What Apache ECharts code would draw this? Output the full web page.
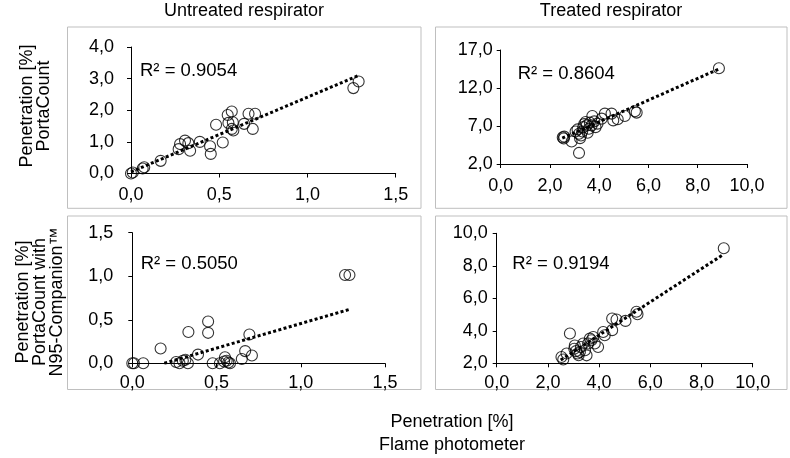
<!DOCTYPE html>
<html><head><meta charset="utf-8">
<script src="https://cdn.jsdelivr.net/npm/echarts@6/dist/echarts.min.js"></script>
<style>html,body{margin:0;padding:0;background:#fff}#c{width:790px;height:458px}</style>
</head><body><div id="c"></div>
<script>
// ---- data ----
const columnTitles = ['Untreated respirator', 'Treated respirator'];
const rowTitles = ['Penetration [%]\nPortaCount', 'Penetration [%]\nPortaCount with\nN95-Companion\u2122'];
const xTitle = 'Penetration [%]\nFlame photometer';
const r2Labels = ['R\u00b2 = 0.9054', 'R\u00b2 = 0.8604', 'R\u00b2 = 0.5050', 'R\u00b2 = 0.9194'];

const untreatedXTicks = [0, 0.5, 1.0, 1.5];
const treatedXTicks = [0, 2, 4, 6, 8, 10];
const p1YTicks = [0, 1, 2, 3, 4];
const p2YTicks = [2, 7, 12, 17];
const p3YTicks = [0, 0.5, 1.0, 1.5];
const p4YTicks = [2, 4, 6, 8, 10];

const untreatedPortaCount = [[0,0],[0.01,0.03],[0.066,0.16],[0.075,0.2],[0.168,0.40],[0.27,0.77],[0.278,0.93],[0.306,1.04],[0.325,0.96],[0.335,0.72],[0.39,1.0],[0.448,0.86],[0.452,0.62],[0.482,1.54],[0.52,0.98],[0.548,1.85],[0.552,1.6],[0.571,1.96],[0.577,1.62],[0.571,1.41],[0.58,1.36],[0.641,1.57],[0.666,1.89],[0.69,1.41],[0.703,1.89],[1.26,2.70],[1.29,2.91]];
const treatedPortaCount = [[2.52,5.5],[2.56,5.35],[2.58,5.6],[2.88,4.96],[3.18,3.46],[3.04,6.28],[3.12,6.55],[3.18,5.98],[3.22,5.40],[3.26,5.75],[3.31,6.28],[3.35,6.85],[3.39,7.25],[3.45,7.52],[3.49,7.08],[3.53,6.11],[3.58,6.64],[3.62,7.44],[3.69,7.08],[3.72,8.31],[3.80,7.61],[3.85,6.85],[3.93,7.31],[4.1,7.97],[4.23,8.63],[4.5,8.63],[4.57,7.74],[4.75,7.88],[5.04,8.31],[5.45,8.94],[5.52,8.76],[8.86,14.6]];
const untreatedCompanion = [[0,0],[0.01,0],[0.065,0],[0.168,0.17],[0.26,0.015],[0.28,0.0],[0.30,0.03],[0.315,0.04],[0.33,0.0],[0.333,0.36],[0.39,0.10],[0.45,0.48],[0.45,0.35],[0.477,0],[0.52,0],[0.545,0.02],[0.55,0.07],[0.56,0.03],[0.57,0.01],[0.58,0.0],[0.65,0.05],[0.67,0.14],[0.695,0.33],[0.71,0.09],[1.263,1.015],[1.289,1.015]];
const treatedCompanion = [[2.53,2.39],[2.6,2.23],[2.73,2.6],[2.86,3.83],[3.03,2.9],[3.05,3.1],[3.1,2.75],[3.16,2.6],[3.2,2.5],[3.25,2.7],[3.29,3.0],[3.38,3.22],[3.45,2.8],[3.51,2.49],[3.57,3.22],[3.64,3.52],[3.7,3.42],[3.77,3.62],[3.83,3.22],[3.96,3.0],[4.16,3.93],[4.22,3.73],[4.51,4.04],[4.51,4.76],[4.68,4.7],[5.03,4.61],[5.46,5.17],[5.5,5.02],[8.87,9.08]];

const trend1 = [[0,0.05],[1.29,3.1]];
const trend2 = [[2.5,5.4],[8.86,14.5]];
const trend3 = [[0.19,0],[1.29,0.62]];
const trend4 = [[2.5,2.2],[8.86,8.7]];

// ---- chart ----
const FONT = 'Liberation Sans';
const fmt = v => v.toFixed(1).replace('.', ',');
const grids = [
  {left:131, top:47, width:264.7, height:126.5},
  {left:500.7, top:50, width:246.3, height:114},
  {left:132.3, top:232.7, width:252.7, height:130.6},
  {left:496.7, top:233.3, width:256, height:130}
];
const xTicksFor = [untreatedXTicks, treatedXTicks, untreatedXTicks, treatedXTicks];
const yTicksFor = [p1YTicks, p2YTicks, p3YTicks, p4YTicks];
const yMargins = [17, 8, 19, 9];
const xMargins = [13, 13, 11, 11];
const scatterData = [untreatedPortaCount, treatedPortaCount, untreatedCompanion, treatedCompanion];
const trendData = [trend1, trend2, trend3, trend4];

function axis(ticks, idx, margin) {
  return {
    type:'value', gridIndex:idx,
    min:ticks[0], max:ticks[ticks.length-1], interval:ticks[1]-ticks[0],
    axisLine:{show:true, onZero:false, lineStyle:{color:'#000', width:1}},
    axisTick:{show:true, length:4, lineStyle:{color:'#000', width:1}},
    splitLine:{show:false},
    axisLabel:{color:'#000', fontSize:18, fontFamily:FONT, margin:margin, formatter:fmt}
  };
}

const series = [];
for (let i = 0; i < 4; i++) {
  series.push({
    type:'scatter', xAxisIndex:i, yAxisIndex:i, data:scatterData[i],
    symbol:'circle', symbolSize:11,
    itemStyle:{color:'rgba(255,255,255,0)', borderColor:'#000', borderWidth:1.1},
    silent:true, z:2
  });
  series.push({
    type:'line', xAxisIndex:i, yAxisIndex:i, data:trendData[i],
    showSymbol:false, symbol:'none',
    lineStyle:{color:'#000', width:3, type:[3,2.4], cap:'butt'},
    silent:true, z:3
  });
}

const boxes = [
  [67.5, 27, 353.5, 181.3],
  [435.5, 27, 351.5, 181.3],
  [67.5, 216, 353.5, 173.5],
  [435.5, 216, 351.5, 173.5]
];
const graphic = boxes.map(b => ({
  type:'rect', shape:{x:b[0], y:b[1], width:b[2], height:b[3]},
  style:{fill:'none', stroke:'#bfbfbf', lineWidth:1}, silent:true, z:-1
}));
const r2Pos = [[140,71],[517.7,73.5],[140.7,264],[512.3,263.5]];
r2Labels.forEach((t, i) => graphic.push({
  type:'text', x:r2Pos[i][0], y:r2Pos[i][1],
  style:{text:t, fontSize:18.5, fontFamily:FONT, fill:'#000', align:'left', verticalAlign:'middle'}
}));
graphic.push({type:'text', x:244, y:11, style:{text:columnTitles[0], fontSize:18, fontFamily:FONT, fill:'#000', align:'center', verticalAlign:'middle'}});
graphic.push({type:'text', x:611, y:11, style:{text:columnTitles[1], fontSize:18, fontFamily:FONT, fill:'#000', align:'center', verticalAlign:'middle'}});
graphic.push({type:'text', x:36, y:106, rotation:Math.PI/2, style:{text:rowTitles[0], fontSize:18, fontFamily:FONT, fill:'#000', align:'center', verticalAlign:'middle', lineHeight:17}});
graphic.push({type:'text', x:40, y:302, rotation:Math.PI/2, style:{text:rowTitles[1], fontSize:18, fontFamily:FONT, fill:'#000', align:'center', verticalAlign:'middle', lineHeight:17}});
graphic.push({type:'text', x:452, y:434, style:{text:xTitle, fontSize:18, fontFamily:FONT, fill:'#000', align:'center', verticalAlign:'middle', lineHeight:23}});

const chart = echarts.init(document.getElementById('c'), null, {renderer:'canvas'});
chart.setOption({
  animation:false,
  backgroundColor:'#fff',
  grid:grids,
  xAxis:[0,1,2,3].map(i => axis(xTicksFor[i], i, xMargins[i])),
  yAxis:[0,1,2,3].map(i => axis(yTicksFor[i], i, yMargins[i])),
  series:series,
  graphic:graphic
});
</script>
</body></html>
